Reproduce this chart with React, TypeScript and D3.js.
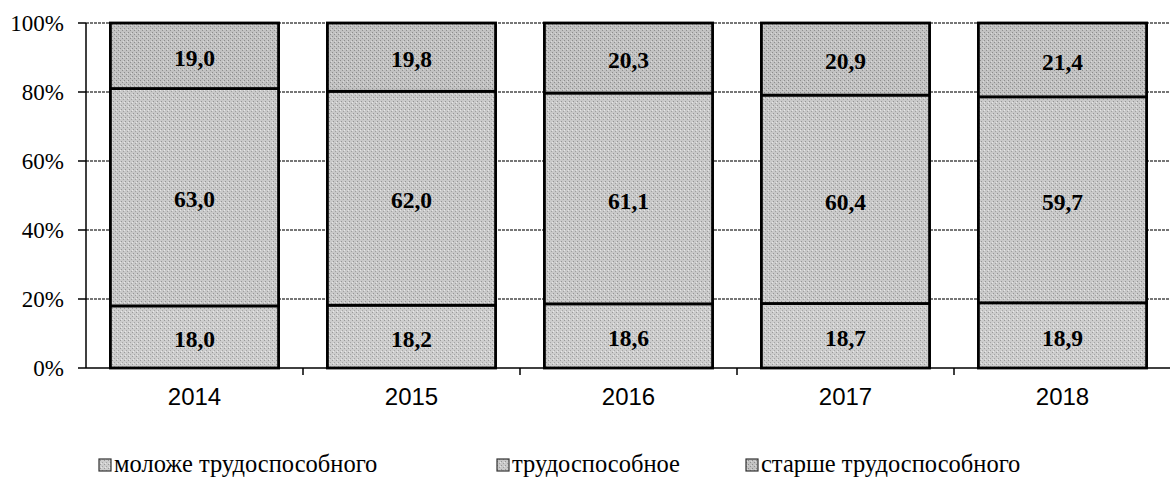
import * as d3 from "d3";

const years = ["2014", "2015", "2016", "2017", "2018"];
const younger = [18.0, 18.2, 18.6, 18.7, 18.9];
const working = [63.0, 62.0, 61.1, 60.4, 59.7];
const older = [19.0, 19.8, 20.3, 20.9, 21.4];
const seriesNames = ["моложе трудоспособного", "трудоспособное", "старше трудоспособного"];
const yTicks = [0, 20, 40, 60, 80, 100];

const W = 1170;
const H = 478;
const SERIF = "'Liberation Serif', 'Times New Roman', serif";
const SANS = "'Liberation Sans', Arial, sans-serif";

export default function App() {
  const x = d3.scaleBand<string>().domain(years).range([86, 86 + 217 * 5]).padding(0);
  const y = d3.scaleLinear().domain([0, 100]).range([368, 23]);
  const barW = x.bandwidth() * 0.775;

  const stack = d3
    .stack<{ year: string; a: number; b: number; c: number }>()
    .keys(["a", "b", "c"])(years.map((yr, i) => ({ year: yr, a: younger[i], b: working[i], c: older[i] })));

  const fills = ["url(#p0)", "url(#p1)", "url(#p2)"];
  const legendX = [99, 497, 746];
  const fmt = (v: number) => v.toFixed(1).replace(".", ",");

  return (
    <svg width={W} height={H} style={{ position: "absolute", left: 0, top: 0, background: "#fff" }}>
      <defs>
        <pattern id="p0" width="4" height="4" patternUnits="userSpaceOnUse">
          <rect width="4" height="4" fill="#cdcdcd" />
          <rect x="0" y="0" width="1" height="1" fill="#9a9a9a" />
          <rect x="2" y="2" width="1" height="1" fill="#a5a5a5" />
          <rect x="1" y="3" width="1" height="1" fill="#e8e8e8" />
        </pattern>
        <pattern id="p1" width="4" height="4" patternUnits="userSpaceOnUse">
          <rect width="4" height="4" fill="#c9c9c9" />
          <rect x="1" y="1" width="1" height="1" fill="#959595" />
          <rect x="3" y="3" width="1" height="1" fill="#a0a0a0" />
          <rect x="0" y="2" width="1" height="1" fill="#e6e6e6" />
        </pattern>
        <pattern id="p2" width="4" height="4" patternUnits="userSpaceOnUse">
          <rect width="4" height="4" fill="#c2c2c2" />
          <rect x="0" y="0" width="1" height="1" fill="#8c8c8c" />
          <rect x="2" y="2" width="1" height="1" fill="#8f8f8f" />
          <rect x="3" y="1" width="1" height="1" fill="#dadada" />
        </pattern>
      </defs>

      {/* gridlines */}
      {yTicks.slice(1).map((t) => (
        <line key={t} x1={86} x2={W} y1={y(t)} y2={y(t)} stroke="#4a4a4a" strokeWidth={1.5} strokeDasharray="3,1" />
      ))}

      {/* bars */}
      {stack.map((layer, si) =>
        layer.map((d, i) => {
          const x0 = (x(years[i]) ?? 0) + (x.bandwidth() - barW) / 2;
          const y0 = y(d[1]);
          const h = y(d[0]) - y(d[1]);
          const v = [younger, working, older][si][i];
          return (
            <g key={`${si}-${i}`}>
              <rect x={x0} y={y0} width={barW} height={h} fill={fills[si]} stroke="#000" strokeWidth={2.8} />
              <text
                x={x0 + barW / 2}
                y={y0 + h / 2 + 2}
                dy="0.35em"
                textAnchor="middle"
                style={{ fontFamily: SERIF, fontWeight: "bold", fontSize: 23.5 }}
                fill="#000"
              >
                {fmt(v)}
              </text>
            </g>
          );
        })
      )}

      {/* y axis */}
      <line x1={86} x2={86} y1={y(100)} y2={y(0)} stroke="#000" strokeWidth={1.5} />
      {yTicks.map((t) => (
        <g key={t}>
          <line x1={78} x2={86} y1={y(t)} y2={y(t)} stroke="#000" strokeWidth={1.5} />
          <text x={64} y={y(t)} dy="0.35em" textAnchor="end" style={{ fontFamily: SERIF, fontSize: 23 }} fill="#000">
            {t}%
          </text>
        </g>
      ))}

      {/* x axis */}
      <line x1={86} x2={W} y1={y(0)} y2={y(0)} stroke="#000" strokeWidth={1.5} />
      {years.map((yr) => (
        <g key={yr}>
          <line x1={(x(yr) ?? 0) + x.bandwidth()} x2={(x(yr) ?? 0) + x.bandwidth()} y1={y(0)} y2={y(0) + 7} stroke="#000" strokeWidth={1.5} />
          <text
            x={(x(yr) ?? 0) + x.bandwidth() / 2}
            y={405}
            textAnchor="middle"
            style={{ fontFamily: SANS, fontSize: 24 }}
            fill="#000"
          >
            {yr}
          </text>
        </g>
      ))}

      {/* legend */}
      {seriesNames.map((name, i) => (
        <g key={name}>
          <rect x={legendX[i]} y={459} width={12} height={12} fill={fills[i]} stroke="#333" strokeWidth={1.2} />
          <text x={legendX[i] + 15} y={472} style={{ fontFamily: SERIF, fontSize: 24.5 }} fill="#000">
            {name}
          </text>
        </g>
      ))}
    </svg>
  );
}
